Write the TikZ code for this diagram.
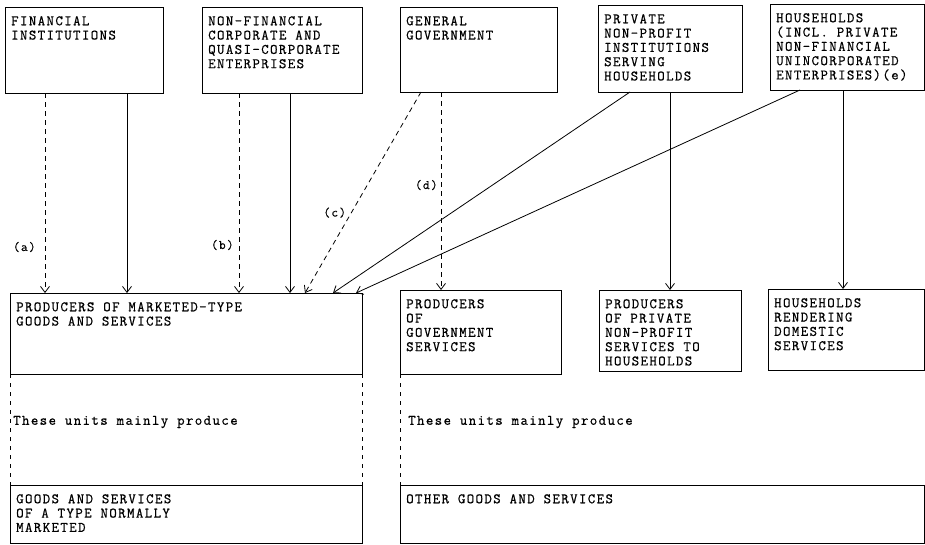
\documentclass[tikz,border=0pt]{standalone}
\usepackage{fontspec}
\setmonofont{Latin Modern Mono}[LetterSpace=9.5, FakeBold=0.6]
\usetikzlibrary{arrows.meta}
\tikzset{
  unit/.style={draw, line width=0.8pt, anchor=north west, inner sep=0pt, outer sep=0pt},
  txt/.style={font=\ttfamily\fontsize{14.5}{14.3}\selectfont, align=left, anchor=north west, inner xsep=6pt, inner ysep=9pt},
  flow/.style={-{Straight Barb[length=6pt,width=9pt,line width=0.8pt]}, line width=0.8pt},
  maybe/.style={flow, dash pattern=on 5pt off 4pt},
  lab/.style={font=\ttfamily\fontsize{13}{13}\selectfont, inner sep=1pt},
  guide/.style={line width=0.7pt, dash pattern=on 4pt off 5pt},
  note/.style={font=\ttfamily\fontsize{14.5}{14.3}\selectfont, anchor=west, inner sep=0pt}
}
\begin{document}
\begin{tikzpicture}[x=1pt, y=-1pt]
\useasboundingbox (0,0) rectangle (925,544);

% Settori istituzionali
\node[unit, minimum width=158pt, minimum height=86pt, label={[txt]north west:FINANCIAL\\INSTITUTIONS}] (fin) at (5,7) {};
\node[unit, minimum width=160pt, minimum height=86pt, label={[txt]north west:NON-FINANCIAL\\CORPORATE AND\\QUASI-CORPORATE\\ENTERPRISES}] (nonfin) at (202,7) {};
\node[unit, minimum width=157pt, minimum height=85pt, label={[txt]north west:GENERAL\\GOVERNMENT}] (gov) at (400,7) {};
\node[unit, minimum width=144pt, minimum height=87pt, label={[txt]north west:PRIVATE\\NON-PROFIT\\INSTITUTIONS\\SERVING\\HOUSEHOLDS}] (priv) at (598,5) {};
\node[unit, minimum width=154pt, minimum height=86pt, label={[txt]north west:HOUSEHOLDS\\(INCL. PRIVATE\\NON-FINANCIAL\\UNINCORPORATED\\ENTERPRISES)(e)}] (hh) at (770,4) {};

% Produttori
\node[unit, minimum width=352pt, minimum height=81pt, label={[txt]north west:PRODUCERS OF MARKETED-TYPE\\GOODS AND SERVICES}] (pmt) at (10,293) {};
\node[unit, minimum width=161pt, minimum height=84pt, label={[txt]north west:PRODUCERS\\OF\\GOVERNMENT\\SERVICES}] (pgs) at (400,290) {};
\node[unit, minimum width=142pt, minimum height=81pt, label={[txt]north west:PRODUCERS\\OF PRIVATE\\NON-PROFIT\\SERVICES TO\\HOUSEHOLDS}] (ppnp) at (599,290) {};
\node[unit, minimum width=156pt, minimum height=81pt, label={[txt]north west:HOUSEHOLDS\\RENDERING\\DOMESTIC\\SERVICES}] (hrds) at (768,289) {};

% Prodotti
\node[unit, minimum width=352pt, minimum height=58pt, label={[txt]north west:GOODS AND SERVICES\\OF A TYPE NORMALLY\\MARKETED}] (gstm) at (10,485) {};
\node[unit, minimum width=524pt, minimum height=58pt, label={[txt]north west:OTHER GOODS AND SERVICES}] (ogs) at (400,485) {};

\node[note] (mainl) at (13,422) {These units mainly produce};
\node[note] (mainr) at (408,422) {These units mainly produce};

% Frecce
\draw[maybe] ([xshift=40pt]fin.south west) -- node[lab, pos=0.77, left=8pt] (la) {(a)} ([xshift=35pt]pmt.north west);
\draw[flow] ([xshift=122pt]fin.south west) -- ([xshift=117pt]pmt.north west);
\draw[maybe] ([xshift=37pt]nonfin.south west) -- node[lab, pos=0.76, left=4pt] (lb) {(b)} ([xshift=229pt]pmt.north west);
\draw[flow] ([xshift=88pt]nonfin.south west) -- ([xshift=280pt]pmt.north west);
\draw[maybe] ([xshift=21pt]gov.south west) -- node[lab, pos=0.6, left=4pt] (lc) {(c)} ([xshift=295pt]pmt.north west);
\draw[maybe] ([xshift=41pt]gov.south west) -- node[lab, pos=0.47, left=2pt] (ld) {(d)} ([xshift=41pt]pgs.north west);
\draw[flow] ([xshift=32pt]priv.south west) -- ([xshift=323pt]pmt.north west);
\draw[flow] ([xshift=30pt]hh.south west) -- ([xshift=346pt]pmt.north west);
\draw[flow] ([xshift=72pt]priv.south west) -- ([xshift=71pt]ppnp.north west);
\draw[flow] ([xshift=73pt]hh.south west) -- ([xshift=75pt]hrds.north west);

% Linee di collegamento
\draw[guide] (pmt.south west) -- (gstm.north west);
\draw[guide] (pmt.south east) -- (gstm.north east);
\draw[guide] (pgs.south west) -- (ogs.north west);

\end{tikzpicture}
\end{document}
